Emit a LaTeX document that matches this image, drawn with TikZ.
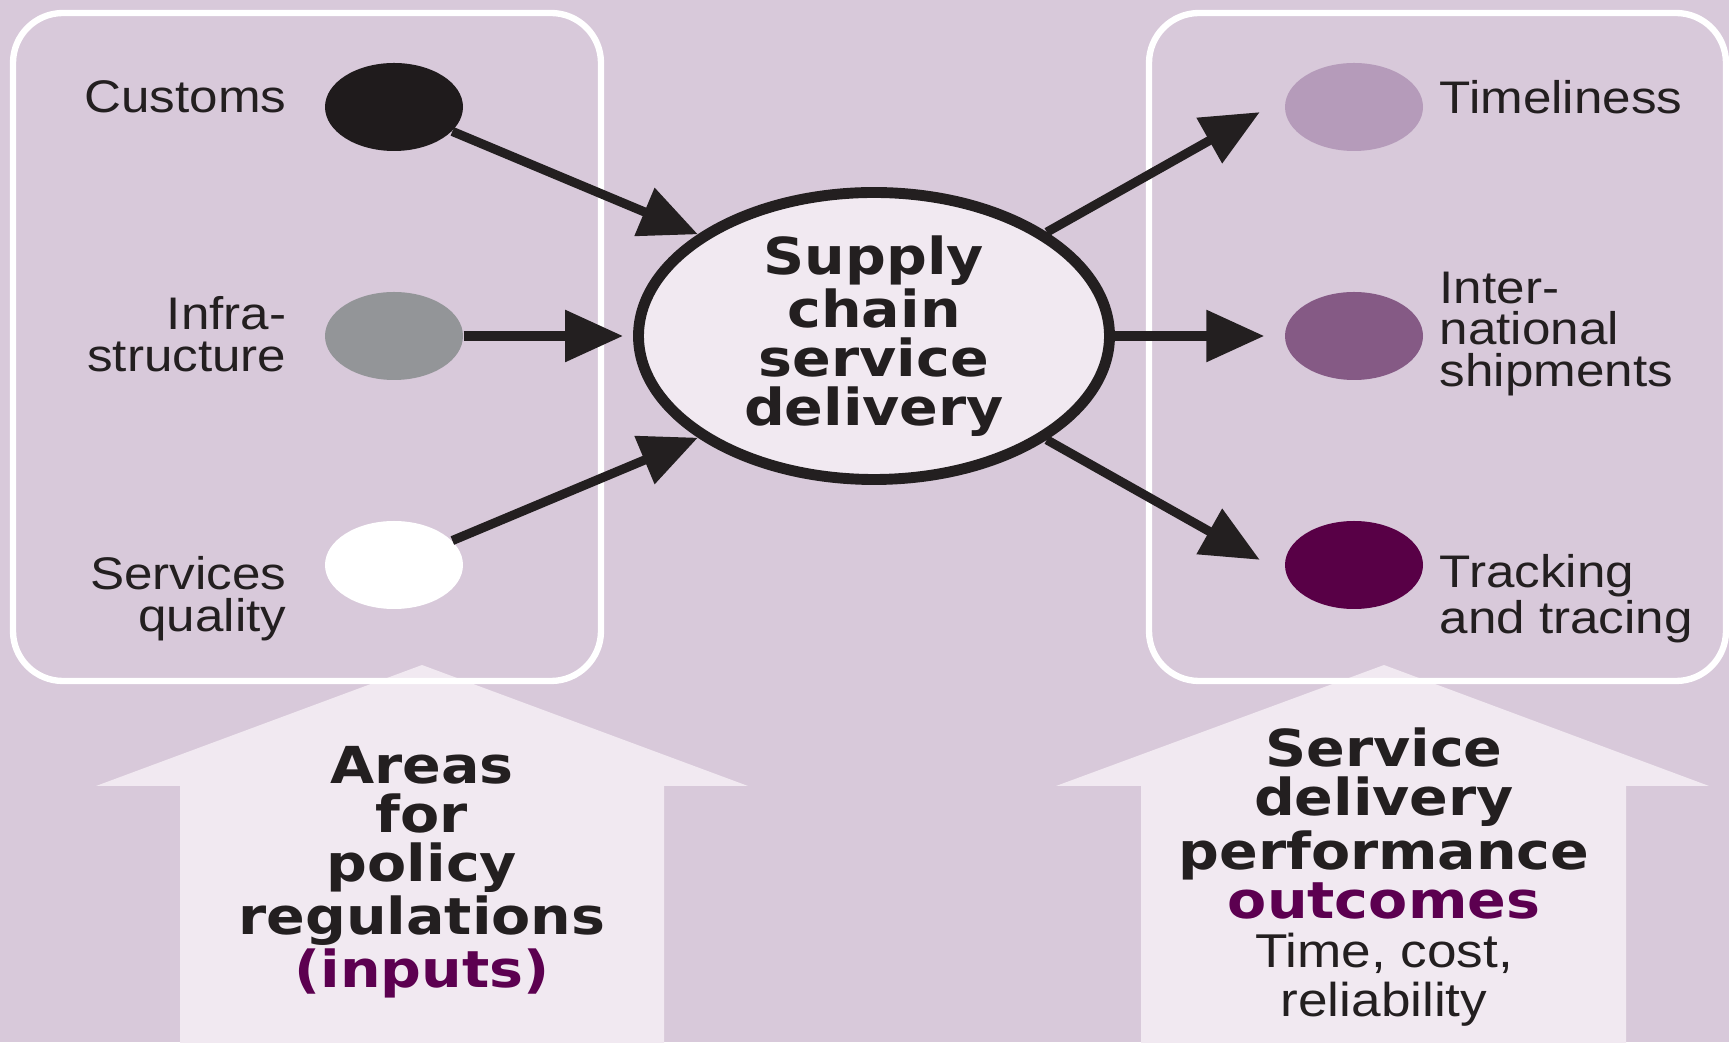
\documentclass[tikz,border=0pt]{standalone}
\usepackage{fontspec}
\setmainfont{Liberation Sans}
\newfontfamily\labelfont[FakeStretch=1.12]{Liberation Sans}
\newfontfamily\heavyfont[FakeStretch=1.12]{DejaVu Sans}
\usetikzlibrary{arrows.meta}
\usetikzlibrary{shapes.geometric}
\definecolor{bg}{HTML}{D8C9DA}
\definecolor{lt}{HTML}{F1E9F1}
\definecolor{tx}{HTML}{231F20}
\definecolor{bk}{HTML}{1F1B1C}
\definecolor{gy}{HTML}{939598}
\definecolor{pa}{HTML}{B59BBA}
\definecolor{pb}{HTML}{855A85}
\definecolor{pc}{HTML}{580046}
\definecolor{pu}{HTML}{5C0050}

\tikzset{
  dot/.style={ellipse, minimum width=1.38cm, minimum height=0.88cm, inner sep=0pt},
  lbl/.style={text=tx, font=\labelfont\fontsize{13}{11.9}\selectfont, inner sep=0pt},
  big/.style={text=tx, font=\heavyfont\bfseries\fontsize{14.5}{13.95}\selectfont, align=center, inner sep=0pt},
  flow/.style={draw=tx, line width=2.6pt, -{Triangle[length=5.8mm,width=5mm]}},
  box/.style={draw=white, line width=1.8pt, rounded corners=5mm},
}
\newcommand{\plain}{\labelfont\mdseries\fontsize{13.5}{13.95}\selectfont}

\begin{document}
\begin{tikzpicture}
  \useasboundingbox (0,0) rectangle (17.29,10.42);
  \fill[bg] (0,0) rectangle (17.29,10.42);

  % the two wide arrows underneath
  \fill[lt] (1.80,-0.1) -- (1.80,2.56) -- (0.96,2.56) -- (4.22,3.77) -- (7.48,2.56) -- (6.64,2.56) -- (6.64,-0.1) -- cycle;
  \fill[lt] (11.41,-0.1) -- (11.41,2.56) -- (10.56,2.56) -- (13.84,3.77) -- (17.09,2.56) -- (16.26,2.56) -- (16.26,-0.1) -- cycle;
  \draw[box] (0.13,3.61) rectangle (6.01,10.29);
  \draw[box] (11.49,3.61) rectangle (17.26,10.29);

  \node[big] (areas) at (4.22,1.70) {Areas\\for\\policy\\regulations\\\textcolor{pu}{(inputs)}};
  \node[big] (outcome) at (13.84,1.65) {Service\\delivery\\performance\\\textcolor{pu}{outcomes}\\\plain Time, cost,\\\plain reliability};

  % inputs
  \node[dot, fill=bk] (customs) at (3.94,9.35) {};
  \node[dot, fill=gy] (infra)   at (3.94,7.06) {};
  \node[dot, fill=white] (quality) at (3.94,4.77) {};
  \node[lbl, anchor=east] (customs-txt) at (2.87,9.45) {Customs};
  \node[lbl, anchor=east, align=right] (infra-txt) at (2.87,7.08) {Infra-\\structure};
  \node[lbl, anchor=east, align=right] (quality-txt) at (2.87,4.43) {Services\\quality};

  % outcomes
  \node[dot, fill=pa] (timely) at (13.54,9.35) {};
  \node[dot, fill=pb] (intl)   at (13.54,7.06) {};
  \node[dot, fill=pc] (track)  at (13.54,4.77) {};
  \node[lbl, anchor=west] (timely-txt) at (14.39,9.45) {Timeliness};
  \node[lbl, anchor=west, align=left] (intl-txt) at (14.39,7.08) {Inter-\\national\\shipments};
  \node[lbl, anchor=west, align=left] (track-txt) at (14.39,4.43) {Tracking\\and tracing};

  \node[ellipse, draw=tx, line width=3.1pt, fill=lt, minimum width=4.71cm, minimum height=2.87cm, big] (supply) at (8.74,7.06) {Supply\\chain\\service\\delivery};

  \draw[flow] (customs) -- (supply.150);
  \draw[flow, shorten >=1mm] (infra) -- (supply.west);
  \draw[flow] (quality) -- (supply.210);
  \draw[flow, shorten >=3mm] (supply.31) -- (timely.172);
  \draw[flow, shorten >=2mm] (supply.east) -- (intl.west);
  \draw[flow, shorten >=3mm] (supply.329) -- (track.188);
\end{tikzpicture}
\end{document}
